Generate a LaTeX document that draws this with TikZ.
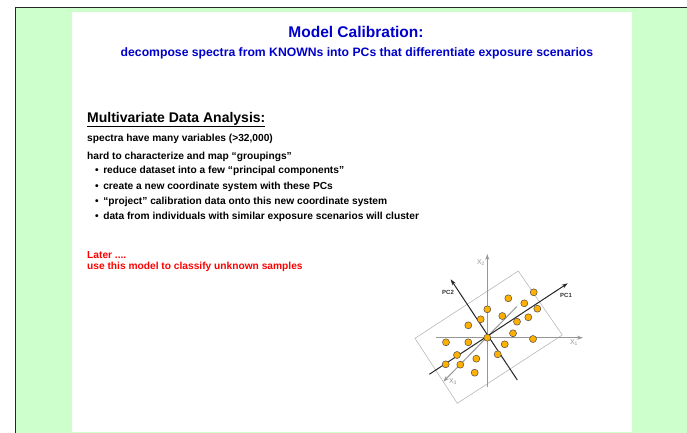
\documentclass[tikz,border=0pt]{standalone}
\usepackage{fontspec}
\setmainfont{Liberation Sans}
\usetikzlibrary{arrows.meta}
\definecolor{bgreen}{RGB}{204,255,204}
\definecolor{tblue}{RGB}{0,0,204}
\definecolor{tred}{RGB}{255,0,0}
\definecolor{dotorange}{RGB}{255,176,0}
\definecolor{axgray}{RGB}{150,150,150}
\definecolor{boxgray}{RGB}{185,185,185}
\begin{document}
\begin{tikzpicture}[x=1pt,y=-1pt,
  txt/.style={inner sep=0pt, anchor=west, font=\bfseries\fontsize{10.2}{12}\selectfont},
  axis/.style={draw=axgray, line width=1pt, -{Stealth[length=6pt,width=4pt]}},
  pcaxis/.style={draw=black!85, line width=1pt, -{Stealth[length=6pt,width=4pt]}},
  axlabel/.style={inner sep=0pt, text=axgray, font=\fontsize{7}{8}\selectfont},
  pclabel/.style={inner sep=0pt, text=black!80, font=\bfseries\fontsize{6}{7}\selectfont},
  dot/.style={circle, draw=black!70, fill=dotorange, line width=0.5pt, minimum size=7pt, inner sep=0pt}]
\useasboundingbox (0,0) rectangle (687,433);
% background
\fill[bgreen] (15,7) rectangle (687,433);
\fill[white] (72,12) rectangle (632,432);
\draw[black!85, line width=1.5pt] (15.5,433) -- (15.5,7.5) -- (687,7.5);
% titles
\node[inner sep=0pt, text=tblue, font=\bfseries\fontsize{15.5}{18}\selectfont] (title) at (356,32) {Model Calibration:};
\node[inner sep=0pt, text=tblue, font=\bfseries\fontsize{12.2}{14}\selectfont] (sub) at (357,53) {decompose spectra from KNOWNs into PCs that differentiate exposure scenarios};
% left text
\node[inner sep=0pt, anchor=west, font=\bfseries\fontsize{14}{16}\selectfont] (head) at (87,119.5) {\underline{Multivariate Data Analysis:}};
\node[txt] (l1) at (87,138.5) {spectra have many variables (>32,000)};
\node[txt] (l2) at (87,156.5) {hard to characterize and map “groupings”};
\node[txt] (b1) at (95,171) {•\hspace{4.5pt}reduce dataset into a few “principal components”};
\node[txt] (b2) at (95,186.5) {•\hspace{4.5pt}create a new coordinate system with these PCs};
\node[txt] (b3) at (95,201.5) {•\hspace{4.5pt}“project” calibration data onto this new coordinate system};
\node[txt] (b4) at (95,217) {•\hspace{4.5pt}data from individuals with similar exposure scenarios will cluster};
\node[txt, text=tred] (r1) at (87,255) {Later ....};
\node[txt, text=tred] (r2) at (87,267) {use this model to classify unknown samples};
% figure
\coordinate (O) at (487.3,337.7);
\draw[boxgray, line width=0.6pt] (518.3,271) -- (562.3,335) -- (457.3,403.3) -- (415,338.3) -- cycle;
\coordinate (x1s) at (436,337.7);
\coordinate (x1e) at (583,337.7);
\coordinate (x2s) at (487.3,387);
\coordinate (x2e) at (487.3,254);
\coordinate (x3s) at (516.7,306.7);
\coordinate (x3e) at (443.3,381.7);
\draw[axis] (x1s) -- (x1e);
\draw[axis] (x2s) -- (x2e);
\draw[axis] (x3s) -- (x3e);
\node[axlabel] (lx1) at (574,343) {X\textsubscript{1}};
\node[axlabel] (lx2) at (481,263) {X\textsubscript{2}};
\node[axlabel] (lx3) at (453,382) {X\textsubscript{3}};
\coordinate (p1s) at (429.3,374.3);
\coordinate (p1e) at (567.7,283.3);
\coordinate (p2s) at (517.3,380);
\coordinate (p2e) at (450.7,279.3);
\draw[pcaxis] (p1s) -- (p1e);
\draw[pcaxis] (p2s) -- (p2e);
\node[pclabel] (lpc1) at (566,295) {PC1};
\node[pclabel] (lpc2) at (448,292) {PC2};
\foreach \x/\y [count=\i] in {533.7/292.3, 508.3/298.3, 524.3/303.3, 537.3/308.7, 487.3/309.3, 502.3/316, 528.3/317.3, 480.7/319.3, 517/321.7, 468.3/325.3, 513/333.3, 533/339, 487.3/337.7, 446/342.3, 468.3/342.3, 504.7/344.3, 457/355, 497.7/354.3, 476.3/358.7, 445.7/364.3, 460.3/364.7, 474.7/372.7}
  \node[dot] (d\i) at (\x,\y) {};
\end{tikzpicture}
\end{document}
